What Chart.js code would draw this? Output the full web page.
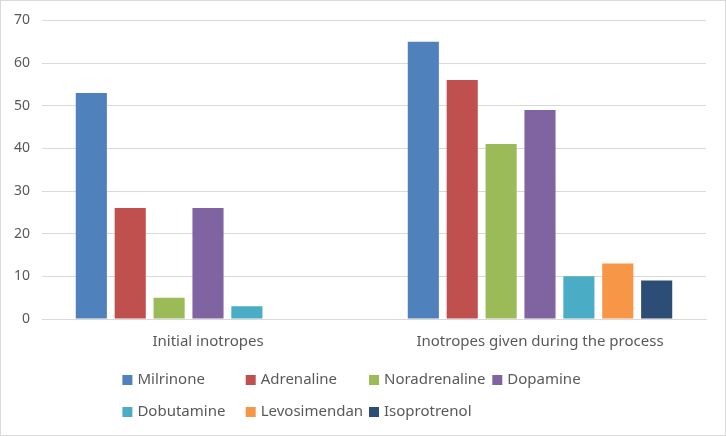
<!DOCTYPE html>
<html>
<head>
<meta charset="utf-8">
<script src="https://cdn.jsdelivr.net/npm/chart.js@4/dist/chart.umd.min.js"></script>
<style>
  html, body { margin: 0; padding: 0; background: #fff; }
  #wrap { width: 726px; height: 436px; }
</style>
</head>
<body>
<div id="wrap"><canvas id="myChart" width="726" height="436"></canvas></div>
<script>
var categories = ['Initial inotropes', 'Inotropes given during the process'];
var seriesNames = ['Milrinone', 'Adrenaline', 'Noradrenaline', 'Dopamine', 'Dobutamine', 'Levosimendan', 'Isoprotrenol'];
var milrinone = [53, 65];
var adrenaline = [26, 56];
var noradrenaline = [5, 41];
var dopamine = [26, 49];
var dobutamine = [3, 10];
var levosimendan = [0, 13];
var isoprotrenol = [0, 9];
var yTicks = [0, 10, 20, 30, 40, 50, 60, 70];

var colors = ['#4F81BD', '#C0504D', '#9BBB59', '#8064A2', '#4BACC6', '#F79646', '#2C4D75'];
var values = [milrinone, adrenaline, noradrenaline, dopamine, dobutamine, levosimendan, isoprotrenol];

var textColor = '#595959';
var gridColor = '#D9D9D9';
var fontFamily = '"Noto Sans", "Open Sans", sans-serif';

// legend in a fixed grid like the office chart, plus the outer frame
var gridLegend = {
    id: 'gridLegend',
    afterDraw: function (chart) {
        var ctx = chart.ctx;
        var colW = 123.3;
        var startX = chart.width / 2 - 2 * colW + 6;
        ctx.save();
        ctx.font = '15px ' + fontFamily;
        ctx.textBaseline = 'middle';
        ctx.textAlign = 'left';
        chart.data.datasets.forEach(function (ds, i) {
            var col = i % 4;
            var row = Math.floor(i / 4);
            var x = startX + col * colW;
            var y = 380 + row * 32;
            ctx.fillStyle = ds.backgroundColor;
            ctx.fillRect(x, y - 5, 10, 10);
            ctx.fillStyle = textColor;
            ctx.fillText(ds.label, x + 15, y);
        });
        ctx.strokeStyle = gridColor;
        ctx.lineWidth = 1;
        ctx.strokeRect(0.5, 0.5, chart.width - 1, chart.height - 1);
        ctx.restore();
    }
};

var datasets = seriesNames.map(function (name, i) {
    return {
        label: name,
        data: values[i],
        backgroundColor: colors[i],
        borderWidth: 0,
        categoryPercentage: 0.82,
        barPercentage: 0.8
    };
});

var ctx = document.getElementById('myChart').getContext('2d');
var myChart = new Chart(ctx, {
    type: 'bar',
    data: {
        labels: categories,
        datasets: datasets
    },
    plugins: [gridLegend],
    options: {
        responsive: false,
        animation: false,
        layout: {
            padding: { top: 19, right: 20, bottom: 72, left: 0 }
        },
        plugins: {
            legend: { display: false },
            tooltip: { enabled: false }
        },
        scales: {
            x: {
                grid: { display: false, drawTicks: false },
                border: { display: true, color: gridColor },
                ticks: {
                    color: textColor,
                    font: { family: fontFamily, size: 15 },
                    padding: 14
                },
                afterFit: function (scale) { scale.height = 45; }
            },
            y: {
                min: 0,
                max: 70,
                afterBuildTicks: function (scale) {
                    scale.ticks = yTicks.map(function (v) { return { value: v }; });
                },
                grid: { color: gridColor, drawTicks: false },
                border: { display: false },
                ticks: {
                    color: textColor,
                    font: { family: fontFamily, size: 14 },
                    padding: 12
                },
                afterFit: function (scale) { scale.width = 42; }
            }
        }
    }
});
</script>
</body>
</html>
